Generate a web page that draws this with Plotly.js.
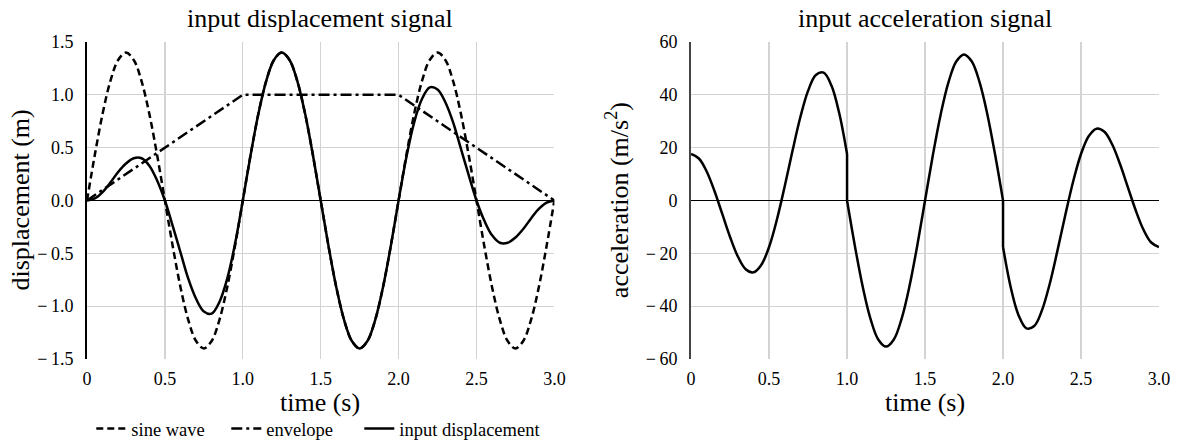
<!DOCTYPE html>
<html>
<head>
<meta charset="utf-8">
<script src="https://cdn.plot.ly/plotly-3.0.1.min.js"></script>
<style>html,body{margin:0;padding:0;background:#fff;}#chart{width:1183px;height:447px;}</style>
</head>
<body>
<div id="chart"></div>
<script>
// ---- data ----
const time = [0,0.05,0.1,0.15,0.2,0.25,0.3,0.35,0.4,0.45,0.5,0.55,0.6,0.65,0.7,0.75,0.8,0.85,0.9,0.95,
  1,1.05,1.1,1.15,1.2,1.25,1.3,1.35,1.4,1.45,1.5,1.55,1.6,1.65,1.7,1.75,1.8,1.85,1.9,1.95,
  2,2.05,2.1,2.15,2.2,2.25,2.3,2.35,2.4,2.45,2.5,2.55,2.6,2.65,2.7,2.75,2.8,2.85,2.9,2.95,3];

const sineWave = [0,0.43,0.82,1.13,1.33,1.4,1.33,1.13,0.82,0.43,0,-0.43,-0.82,-1.13,-1.33,-1.4,-1.33,-1.13,-0.82,-0.43,
  0,0.43,0.82,1.13,1.33,1.4,1.33,1.13,0.82,0.43,0,-0.43,-0.82,-1.13,-1.33,-1.4,-1.33,-1.13,-0.82,-0.43,
  0,0.43,0.82,1.13,1.33,1.4,1.33,1.13,0.82,0.43,0,-0.43,-0.82,-1.13,-1.33,-1.4,-1.33,-1.13,-0.82,-0.43,0];

const inputDisplacement = [0,0.02,0.08,0.17,0.27,0.35,0.40,0.40,0.33,0.19,0,-0.24,-0.49,-0.74,-0.93,-1.05,-1.07,-0.96,-0.74,-0.41,
  0,0.43,0.82,1.13,1.33,1.4,1.33,1.13,0.82,0.43,0,-0.43,-0.82,-1.13,-1.33,-1.4,-1.33,-1.13,-0.82,-0.43,
  0,0.41,0.74,0.96,1.07,1.05,0.93,0.74,0.49,0.24,0,-0.19,-0.33,-0.40,-0.40,-0.35,-0.27,-0.17,-0.08,-0.02,0];

const envelopeTime = [0,1,2,3];
const envelope = [0,1,1,0];

// acceleration: three smooth phases joined by the two vertical jumps at t = 1 s and t = 2 s
// (null separates pieces so the jumps keep their sharp corners)
const accelTime = [0,0.05,0.1,0.15,0.2,0.25,0.3,0.35,0.4,0.45,0.5,0.55,0.6,0.65,0.7,0.75,0.8,0.85,0.9,0.95,1,
  null, 1,1,
  null, 1,1.05,1.1,1.15,1.2,1.25,1.3,1.35,1.4,1.45,1.5,1.55,1.6,1.65,1.7,1.75,1.8,1.85,1.9,1.95,2,
  null, 2,2,
  null, 2,2.05,2.1,2.15,2.2,2.25,2.3,2.35,2.4,2.45,2.5,2.55,2.6,2.65,2.7,2.75,2.8,2.85,2.9,2.95,3];

const acceleration = [17.6,15.9,11.0,3.6,-5.1,-13.8,-21.2,-26.0,-27.2,-24.4,-17.6,-7.3,5.3,18.7,31.4,41.5,47.5,48.4,43.5,33.0,17.6,
  null, 17.6,0,
  null, 0,-17.1,-32.5,-44.7,-52.6,-55.3,-52.6,-44.7,-32.5,-17.1,0,17.1,32.5,44.7,52.6,55.3,52.6,44.7,32.5,17.1,0,
  null, 0,-17.6,
  null, -17.6,-33.0,-43.5,-48.4,-47.5,-41.5,-31.4,-18.7,-5.3,7.3,17.6,24.4,27.2,26.0,21.2,13.8,5.1,-3.6,-11.0,-15.9,-17.6];

const timeTickVals = [0,0.5,1,1.5,2,2.5,3];
const timeTickText = ["0","0.5","1.0","1.5","2.0","2.5","3.0"];
const dispTickVals = [-1.5,-1,-0.5,0,0.5,1,1.5];
const dispTickText = ["\u2212\u20091.5","\u2212\u20091.0","\u2212\u20090.5","0.0","0.5","1.0","1.5"];
const accTickVals = [-60,-40,-20,0,20,40,60];
const accTickText = ["\u2212\u200960","\u2212\u200940","\u2212\u200920","0","20","40","60"];

// ---- chart ----
const FONT = "Liberation Serif";
const GRID = "#d3d3d3";

const traces = [
  {x: time, y: sineWave, name: "sine wave", type: "scatter", mode: "lines", legendwidth: 90,
   line: {color: "#000", width: 2.5, dash: "7px,4px", shape: "spline"}, xaxis: "x", yaxis: "y"},
  {x: envelopeTime, y: envelope, name: "envelope", type: "scatter", mode: "lines", legendwidth: 88,
   line: {color: "#000", width: 2.5, dash: "11px,4px,3px,4px"}, xaxis: "x", yaxis: "y"},
  {x: time, y: inputDisplacement, name: "input displacement", type: "scatter", mode: "lines",
   line: {color: "#000", width: 2.5, shape: "spline"}, xaxis: "x", yaxis: "y"},
  {x: accelTime, y: acceleration, name: "input acceleration", type: "scatter", mode: "lines",
   connectgaps: false, showlegend: false,
   line: {color: "#000", width: 2.5, shape: "spline"}, xaxis: "x2", yaxis: "y2"}
];

function xAxis(domain, anchor) {
  return {
    domain: domain, anchor: anchor, range: [0, 3], tickmode: "array",
    tickvals: timeTickVals, ticktext: timeTickText,
    showgrid: true, gridcolor: GRID, gridwidth: 1.3, zeroline: false, showline: false,
    ticks: "outside", ticklen: 3, tickcolor: "rgba(0,0,0,0)",
    tickfont: {family: FONT, size: 18, color: "#000"}, automargin: false, fixedrange: true
  };
}
function yAxis(range, vals, text, anchor, lineColor) {
  return {
    domain: [0, 1], anchor: anchor, range: range, tickmode: "array",
    tickvals: vals, ticktext: text,
    showgrid: true, gridcolor: GRID, gridwidth: 1.3,
    zeroline: true, zerolinecolor: "#000", zerolinewidth: 1.5,
    showline: true, linecolor: lineColor, linewidth: 2,
    ticks: "outside", ticklen: 8, tickcolor: "rgba(0,0,0,0)",
    tickfont: {family: FONT, size: 18, color: "#000"}, automargin: false, fixedrange: true
  };
}

const layout = {
  width: 1183, height: 447,
  margin: {l: 86.5, r: 24.3, t: 42.3, b: 88, autoexpand: false},
  paper_bgcolor: "#fff", plot_bgcolor: "#fff",
  font: {family: FONT, color: "#000"},
  showlegend: true,
  legend: {orientation: "h", x: 0.004, xanchor: "left", y: -0.221, yanchor: "middle",
           font: {family: FONT, size: 18.5, color: "#000"}, bgcolor: "rgba(0,0,0,0)", traceorder: "normal"},
  xaxis: xAxis([0, 0.436], "y"),
  yaxis: yAxis([-1.5, 1.5], dispTickVals, dispTickText, "x", "#000"),
  xaxis2: xAxis([0.5635, 1], "y2"),
  yaxis2: yAxis([-60, 60], accTickVals, accTickText, "x2", "#444"),
  annotations: [
    {text: "input displacement signal", xref: "paper", yref: "paper", x: 0.2178, y: 1.0736,
     xanchor: "center", yanchor: "middle", showarrow: false, font: {family: FONT, size: 26, color: "#000"}},
    {text: "input acceleration signal", xref: "paper", yref: "paper", x: 0.7818, y: 1.0736,
     xanchor: "center", yanchor: "middle", showarrow: false, font: {family: FONT, size: 26, color: "#000"}},
    {text: "time (s)", xref: "paper", yref: "paper", x: 0.2178, y: -0.138,
     xanchor: "center", yanchor: "middle", showarrow: false, font: {family: FONT, size: 26, color: "#000"}},
    {text: "time (s)", xref: "paper", yref: "paper", x: 0.7818, y: -0.138,
     xanchor: "center", yanchor: "middle", showarrow: false, font: {family: FONT, size: 26, color: "#000"}},
    {text: "displacement (m)", xref: "paper", yref: "paper", x: -0.0625, y: 0.5, textangle: -90,
     xanchor: "center", yanchor: "middle", showarrow: false, font: {family: FONT, size: 26, color: "#000"}},
    {text: "acceleration (m/s<sup>2</sup>)", xref: "paper", yref: "paper", x: 0.495, y: 0.5, textangle: -90,
     xanchor: "center", yanchor: "middle", showarrow: false, font: {family: FONT, size: 26, color: "#000"}}
  ]
};

Plotly.newPlot("chart", traces, layout, {displayModeBar: false, staticPlot: true});
</script>
</body>
</html>
